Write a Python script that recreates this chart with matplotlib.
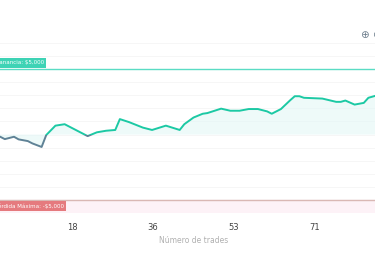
import matplotlib.pyplot as plt
import numpy as np
from matplotlib.patches import Rectangle

# cumulative P&L by trade number
trades = [1, 3, 4, 6, 7, 9, 10, 12, 13, 15, 17, 22, 24, 26, 28, 29, 31, 34, 36,
          39, 42, 43, 45, 47, 48, 51, 53, 55, 57, 59, 61, 62, 64, 66, 67, 68, 69,
          73, 76, 77, 78, 80, 82, 83, 85, 87, 89]
pnl = [-50, -170, -350, -170, -370, -500, -680, -950, -40, 680, 790, -120, 170,
       290, 350, 1180, 950, 530, 350, 680, 350, 790, 1300, 1590, 1640, 1980,
       1820, 1820, 1950, 1950, 1770, 1590, 1950, 2620, 2930, 2930, 2810, 2750,
       2500, 2500, 2600, 2290, 2420, 2810, 3010, 3150, 3300]
x_min, x_max = 1, 89
y_min, y_max = -6000, 7000
target_profit = 5000
max_loss = -5000
tick_pos = np.linspace(x_min, x_max, 6)[1:-1]
tick_labels = [str(int(v)) for v in tick_pos]

W, H = 375, 257
fig = plt.figure(figsize=(W / 100, H / 100), dpi=100)
ax = fig.add_axes([-9 / W, 1 - 213 / H, 405 / W, 170 / H])
ax.set_xlim(x_min, x_max)
ax.set_ylim(y_min, y_max)
for s in ax.spines.values():
    s.set_visible(False)

for g in range(y_min, y_max + 1, 1000):
    ax.axhline(g, color="#f5f5f5", lw=0.6, zorder=0)
ax.axhspan(y_min, max_loss, color="#fdf2f7", zorder=0)

ax.fill_between(trades, pnl, 0, color="#e3f7f6", alpha=0.6, lw=0, zorder=1)

up = Rectangle((x_min, 0), x_max - x_min, y_max, transform=ax.transData)
down = Rectangle((x_min, y_min), x_max - x_min, -y_min, transform=ax.transData)
l1, = ax.plot(trades, pnl, color="#1cc9a4", lw=1.4, zorder=3,
              solid_joinstyle="round")
l1.set_clip_path(up)
l2, = ax.plot(trades, pnl, color="#5f8296", lw=1.4, zorder=3,
              solid_joinstyle="round")
l2.set_clip_path(down)

ax.axhline(target_profit, color="#5adcc4", lw=1.0, zorder=2)
ax.axhline(max_loss, color="#d9b8b4", lw=1.0, zorder=2)
ax.text(x_min + 0.9, target_profit + 280, "Ganancia: $5,000", fontsize=4.0,
        color="white", va="bottom", ha="left", zorder=4,
        bbox=dict(boxstyle="square,pad=0.4", fc="#3ed3b5", ec="none"))
ax.text(x_min + 0.9, max_loss - 250, "Pérdida Máxima: -$5,000", fontsize=4.0,
        color="white", va="top", ha="left", zorder=4,
        bbox=dict(boxstyle="square,pad=0.4", fc="#e57a7e", ec="none"))

ax.set_xticks(tick_pos)
ax.set_xticklabels(tick_labels, fontsize=6, color="#444444")
ax.set_yticks([])
ax.tick_params(axis="x", length=0, pad=7)
ax.set_xlabel("Número de trades", fontsize=5.5, color="#b0b0b0", labelpad=3)

fig.text(364 / W, 1 - 35 / H, "⊕", fontsize=7.5, color="#6e7f8d",
         ha="center", va="center")
fig.text(376 / W, 1 - 35 / H, "⊖", fontsize=7.5, color="#6e7f8d",
         ha="center", va="center")

fig.savefig("out.png", dpi=100)
